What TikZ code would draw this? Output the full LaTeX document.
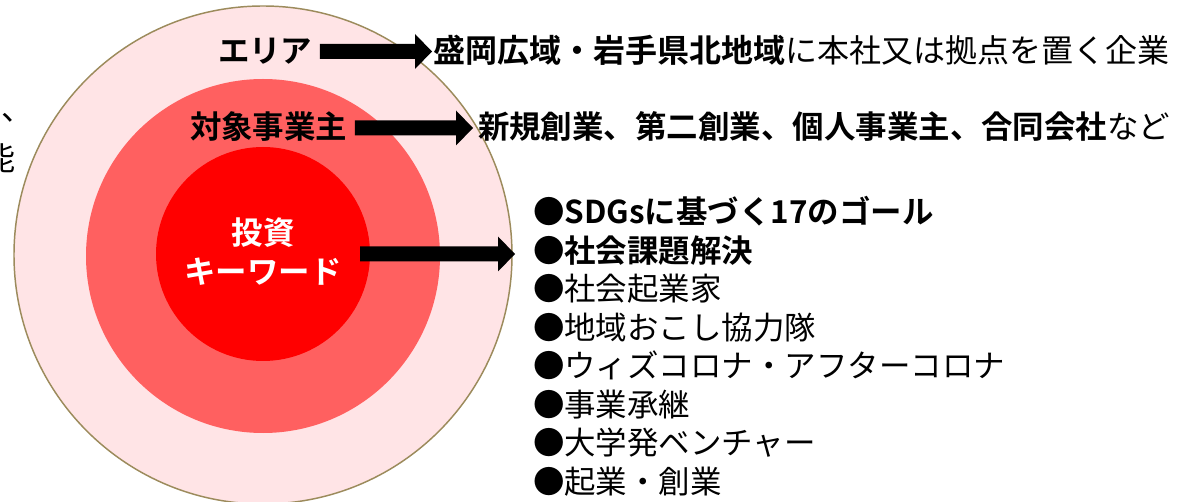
\documentclass[tikz,border=0pt]{standalone}
\usepackage{fontspec}
\setmainfont{Noto Sans CJK JP}[BoldFont={Noto Sans CJK JP Bold}]
\usetikzlibrary{calc}
\definecolor{outerfill}{HTML}{FFE4E6}
\definecolor{outerline}{HTML}{9C8B5C}
\definecolor{midfill}{HTML}{FF6060}
\definecolor{innerfill}{HTML}{FF0000}
\newcommand\blockarrow[2]{%
  \fill ($(#1)+(0,-7.5)$) -- ($(#2)+(-17,-7.5)$) -- ($(#2)+(-17,-17.5)$) -- (#2)
    -- ($(#2)+(-17,17.5)$) -- ($(#2)+(-17,7.5)$) -- ($(#1)+(0,7.5)$) -- cycle;}
\begin{document}
\begin{tikzpicture}[x=0.75pt,y=-0.75pt,
  txt/.style={inner sep=0pt, outer sep=0pt, font=\fontsize{23.6pt}{28pt}\selectfont, anchor=base west},
  ring/.style={circle, inner sep=0pt, outer sep=0pt}]
\useasboundingbox (0,0) rectangle (1186,502);
\clip (0,0) rectangle (1186,502);
\fill[white] (0,0) rectangle (1186,502);

% rings
\node[ring, fill=outerfill, draw=outerline, line width=1.1pt, minimum size=373.5pt] (outer) at (263,255) {};
\node[ring, fill=midfill, minimum size=265.5pt] (middle) at (263,256) {};
\node[ring, fill=innerfill, minimum size=160.5pt] (inner) at (263,254) {};

% clipped text at left edge
\node[inner sep=0pt, anchor=base west, font=\fontsize{24pt}{26pt}\selectfont] (cut1) at (1,121) {、};
\node[inner sep=0pt, anchor=base east, font=\fontsize{24pt}{26pt}\selectfont] (cut2) at (16,171) {能};

% centre text
\node[txt, anchor=base, text=white, font=\fontsize{23.6pt}{28pt}\selectfont\bfseries] (kw1) at (263,245) {投資};
\node[txt, anchor=base, text=white, font=\fontsize{23.6pt}{28pt}\selectfont\bfseries] (kw2) at (263,284) {キーワード};

% labels
\node[txt, font=\fontsize{23.6pt}{28pt}\selectfont\bfseries] (area) at (218,63) {エリア};
\node[txt, font=\fontsize{24pt}{28pt}\selectfont] (areatxt) at (433,63) {\textbf{盛岡広域・岩手県北地域}に本社又は拠点を置く企業};
\node[txt, font=\fontsize{23.6pt}{28pt}\selectfont\bfseries] (obj) at (190,139) {対象事業主};
\node[txt] (objtxt) at (478,139) {\textbf{新規創業、第二創業、個人事業主、合同会社}など};

% list
\node[txt] (l1) at (533,224) {\textbf{●SDGsに基づく17のゴール}};
\node[txt] (l2) at (533,262.5) {\textbf{●社会課題解決}};
\node[txt] (l3) at (533,301) {●社会起業家};
\node[txt] (l4) at (533,339.5) {●地域おこし協力隊};
\node[txt] (l5) at (533,378) {●ウィズコロナ・アフターコロナ};
\node[txt] (l6) at (533,416.5) {●事業承継};
\node[txt] (l7) at (533,455) {●大学発ベンチャー};
\node[txt] (l8) at (533,493.5) {●起業・創業};

% arrows
\coordinate (s1) at ($(area.base east)+(7.5,-11.5)$);
\coordinate (m1) at (s1 -| areatxt.west);
\coordinate (e1) at ($(m1)+(-1,0)$);
\blockarrow{s1}{e1}

\coordinate (s2) at ($(obj.base east)+(7.5,-11)$);
\coordinate (m2) at (s2 -| objtxt.west);
\coordinate (e2) at ($(m2)+(-5,0)$);
\blockarrow{s2}{e2}

\coordinate (s3) at ($(inner.center)+(97,0)$);
\coordinate (m3) at (s3 -| l2.west);
\coordinate (e3) at ($(m3)+(-18,0)$);
\blockarrow{s3}{e3}
\end{tikzpicture}
\end{document}
